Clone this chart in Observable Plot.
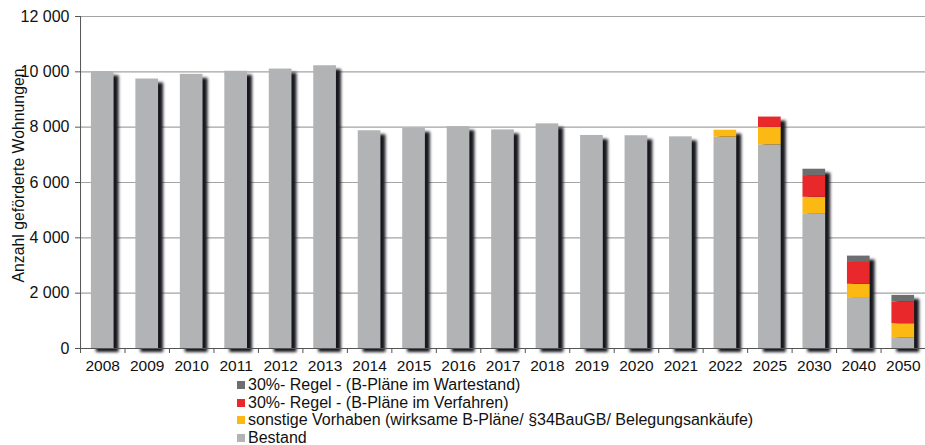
<!DOCTYPE html>
<html>
<head>
<meta charset="utf-8">
<script src="https://cdn.jsdelivr.net/npm/d3@7"></script>
<script src="https://cdn.jsdelivr.net/npm/@observablehq/plot@0.6"></script>
<style>
  body { margin: 0; background: #fff; font-family: "Liberation Sans", Arial, sans-serif; }
  #chart svg { display: block; }
  .shadow { filter: blur(1.8px); }
  #legend { margin-left: 237px; font-size: 16px; line-height: 17.7px; color: #111; margin-top: 1px; }
  #legend .item { display: flex; align-items: center; white-space: nowrap; }
  #legend .sw { width: 8px; height: 8px; margin-right: 3px; flex: none; }
</style>
</head>
<body>
<div id="chart"></div>
<div id="legend"></div>
<script>
const years = ["2008","2009","2010","2011","2012","2013","2014","2015","2016","2017","2018","2019","2020","2021","2022","2025","2030","2040","2050"];
const bestand =   [10000, 9740, 9910, 10020, 10100, 10220, 7870, 7960, 8020, 7900, 8120, 7700, 7690, 7650, 7640, 7360, 4850, 1810, 390];
const sonstige =  [0, 0, 0, 0, 0, 0, 0, 0, 0, 0, 0, 0, 0, 0, 250, 630, 615, 510, 505];
const verfahren = [0, 0, 0, 0, 0, 0, 0, 0, 0, 0, 0, 0, 0, 0, 0, 375, 785, 790, 785];
const wartestand= [0, 0, 0, 0, 0, 0, 0, 0, 0, 0, 0, 0, 0, 0, 0, 0, 230, 230, 240];
const yTicks = [0, 2000, 4000, 6000, 8000, 10000, 12000];

const seriesNames = [
  "Bestand",
  "sonstige Vorhaben (wirksame B-Pläne/ §34BauGB/ Belegungsankäufe)",
  "30%- Regel - (B-Pläne im Verfahren)",
  "30%- Regel - (B-Pläne im Wartestand)"
];
const seriesColors = ["#b1b3b4", "#fdb913", "#e8282a", "#6d6e70"];
const seriesValues = [bestand, sonstige, verfahren, wartestand];

const rows = [];
seriesNames.forEach((s, si) => {
  years.forEach((y, i) => {
    rows.push({year: y, series: s, value: seriesValues[si][i]});
  });
});
const totals = years.map((y, i) => ({year: y, total: bestand[i] + sonstige[i] + verfahren[i] + wartestand[i]}));

const fmt = d => d3.format(",")(d).replace(/,/g, " ");

const plot = Plot.plot({
  width: 925,
  height: 375,
  marginLeft: 80,
  marginRight: 0,
  marginTop: 16,
  marginBottom: 27,
  style: {fontFamily: "Liberation Sans, Arial, sans-serif", fontSize: "15px", color: "#111", background: "#fff"},
  x: {domain: years, paddingInner: 0.49, paddingOuter: 0.245, round: false, label: null},
  y: {domain: [0, 12000], label: null},
  color: {domain: seriesNames, range: seriesColors},
  marks: [
    Plot.ruleY(yTicks, {y: d => d, stroke: "#a3a3a3", strokeWidth: 1.2}),
    // shadows
    Plot.barY(totals, {x: "year", y: "total", fill: "#17171e", dx: 5, dy: 4, className: "shadow"}),
    Plot.barY(rows, {x: "year", y: "value", fill: "series", order: seriesNames}),
    // y axis
    Plot.axisY({ticks: yTicks, tickFormat: fmt, tickSize: 5, tickPadding: 6, stroke: "#555", fontSize: 16, label: null}),
    Plot.ruleX([years[0]], {x: d => d, y1: 0, y2: 12000, dx: -22.2, stroke: "#555"}),
    // x axis
    Plot.axisX({tickSize: 0, tickPadding: 11, fontSize: 15.5, label: null}),
    Plot.ruleX(years, {x: d => d, y1: 0, y2: 0, insetBottom: -5, dx: -22.2, stroke: "#555"}),
    Plot.ruleY([0], {stroke: "#555"}),
    Plot.text(["Anzahl geförderte Wohnungen"], {frameAnchor: "left", textAnchor: "middle", dx: -62, dy: -7, rotate: -90, fontSize: 15.8, text: d => d, fill: "#111"})
  ]
});
document.getElementById("chart").append(plot);

const legend = document.getElementById("legend");
[3, 2, 1, 0].forEach(i => {
  const it = document.createElement("div");
  it.className = "item";
  const sw = document.createElement("span");
  sw.className = "sw";
  sw.style.background = seriesColors[i];
  it.append(sw);
  it.append(document.createTextNode(seriesNames[i]));
  legend.append(it);
});
</script>
</body>
</html>
